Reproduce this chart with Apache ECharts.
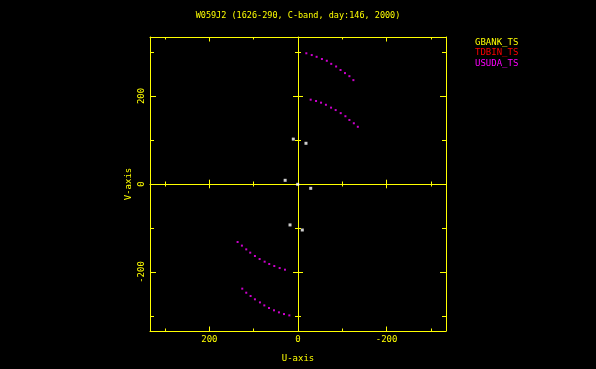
<!DOCTYPE html>
<html>
<head>
<meta charset="utf-8">
<title>W059J2 uv coverage</title>
<script src="https://cdn.jsdelivr.net/npm/echarts@6/dist/echarts.min.js"></script>
<style>
  html, body { margin: 0; padding: 0; background: #000; }
  #main { width: 596px; height: 369px; }
</style>
</head>
<body>
<div id="main"></div>
<script>
// data, [U, V] in the same units as the axes
var usudaArcs = [
  [-18.8, 297], [-31, 293], [-42, 289], [-54, 284], [-65, 280], [-75, 273],
  [-86, 267], [-96, 259], [-106, 252], [-116, 245], [-125, 236],
  [-28.6, 191.6], [-40.7, 188.6], [-52, 184.8], [-63, 180], [-74.6, 173.5],
  [-85, 168], [-96.4, 161], [-107, 154], [-116, 145.5], [-126, 138], [-135, 130],
  [136.3, -131.8], [126.6, -140], [116.8, -148.5], [107.8, -156], [97.2, -163.6],
  [86.6, -170.5], [75.3, -176.5], [64.9, -181.8], [53.5, -186.4], [41.4, -191], [29.4, -194.7],
  [125.8, -237.8], [116.8, -247], [107, -254.5], [97.2, -262], [85.9, -269],
  [76, -275.8], [65.5, -281.8], [54.2, -287], [43, -291.6], [31.6, -295.5], [19.6, -298.5]
];
var whitePoints = [
  [10.6, 102], [-18, 92.5], [29, 8.4], [0.7, -0.7], [-28.7, -9.8], [18, -93], [-9.7, -104.5]
];
var legendNames = ['GBANK_TS', 'TDBIN_TS', 'USUDA_TS'];
var legendColors = ['#ffff00', '#ff0000', '#ff00ff'];
var majorTicks = [-200, 0, 200];
var minorTicks = [-300, -100, 100, 300];
var tickLabels = [-200, 0, 200];
var axisLimit = 334;

var yellow = '#ffff00';
var font = 'DejaVu Sans Mono';

// one axis of the frame or the cross; most only carry ticks
function axis(dim, opt) {
  var a = {
    type: 'value',
    gridIndex: 0,
    min: -axisLimit,
    max: axisLimit,
    position: opt.position,
    splitLine: { show: false },
    axisLine: {
      show: !!opt.line,
      onZero: !!opt.zero,
      lineStyle: { color: yellow, width: 1 }
    },
    axisTick: {
      show: true,
      inside: opt.inside,
      length: opt.len,
      customValues: opt.ticks,
      lineStyle: { color: yellow, width: 1 }
    },
    axisLabel: { show: false }
  };
  if (opt.zero) a.axisLine.onZeroAxisIndex = 0;
  if (dim === 'x') a.inverse = true;
  return a;
}

var xAxes = [
  axis('x', { position: 'bottom', line: true, inside: true, len: 4.5, ticks: majorTicks }),
  axis('x', { position: 'bottom', inside: true, len: 2.5, ticks: minorTicks }),
  axis('x', { position: 'top', line: true, inside: true, len: 4.5, ticks: majorTicks }),
  axis('x', { position: 'top', inside: true, len: 2.5, ticks: minorTicks }),
  axis('x', { position: 'bottom', zero: true, line: true, inside: true, len: 4.3, ticks: majorTicks }),
  axis('x', { position: 'bottom', zero: true, inside: false, len: 4.3, ticks: majorTicks }),
  axis('x', { position: 'bottom', zero: true, inside: true, len: 2.5, ticks: minorTicks }),
  axis('x', { position: 'bottom', zero: true, inside: false, len: 2.5, ticks: minorTicks })
];
xAxes[0].axisLabel = {
  show: true, customValues: tickLabels, color: yellow,
  fontFamily: font, fontSize: 9, margin: 4.5
};
xAxes[0].name = 'U-axis';
xAxes[0].nameLocation = 'middle';
xAxes[0].nameGap = 23;
xAxes[0].nameTextStyle = { color: yellow, fontFamily: font, fontSize: 9 };

var yAxes = [
  axis('y', { position: 'left', line: true, inside: true, len: 6, ticks: majorTicks }),
  axis('y', { position: 'left', inside: true, len: 4, ticks: minorTicks }),
  axis('y', { position: 'right', line: true, inside: true, len: 6, ticks: majorTicks }),
  axis('y', { position: 'right', inside: true, len: 4, ticks: minorTicks }),
  axis('y', { position: 'left', zero: true, line: true, inside: true, len: 5, ticks: majorTicks }),
  axis('y', { position: 'left', zero: true, inside: false, len: 5, ticks: majorTicks }),
  axis('y', { position: 'left', zero: true, inside: true, len: 3, ticks: minorTicks }),
  axis('y', { position: 'left', zero: true, inside: false, len: 3, ticks: minorTicks })
];
yAxes[0].axisLabel = {
  show: true, customValues: tickLabels, color: yellow, rotate: 90,
  fontFamily: font, fontSize: 9, margin: 4
};
yAxes[0].name = 'V-axis';
yAxes[0].nameLocation = 'middle';
yAxes[0].nameRotate = 90;
yAxes[0].nameGap = 17;
yAxes[0].nameTextStyle = { color: yellow, fontFamily: font, fontSize: 9 };

var myChart = echarts.init(document.getElementById('main'));
myChart.setOption({
  backgroundColor: '#000',
  animation: false,
  title: {
    text: 'W059J2 (1626-290, C-band, day:146, 2000)',
    left: 'center',
    top: 11.5,
    padding: 0,
    textStyle: { color: yellow, fontFamily: font, fontSize: 8.5, fontWeight: 'normal' }
  },
  legend: {
    orient: 'vertical',
    left: 470,
    top: 37.5,
    padding: 0,
    icon: 'none',
    itemWidth: 0,
    itemHeight: 10,
    itemGap: 1,
    selectedMode: false,
    data: legendNames.map(function (n, i) {
      return { name: n, textStyle: { color: legendColors[i] } };
    }),
    textStyle: { fontFamily: font, fontSize: 9 }
  },
  grid: { left: 150, top: 37, width: 296, height: 294 },
  xAxis: xAxes,
  yAxis: yAxes,
  series: [
    { name: legendNames[0], type: 'scatter', color: legendColors[0], data: [] },
    { name: legendNames[1], type: 'scatter', color: legendColors[1], data: [] },
    {
      name: legendNames[2], type: 'scatter', color: legendColors[2],
      symbol: 'rect', symbolSize: 2, data: usudaArcs
    },
    {
      name: 'baseline', type: 'scatter', color: '#ffffff',
      symbol: 'rect', symbolSize: 3, data: whitePoints
    }
  ]
});
</script>
</body>
</html>
